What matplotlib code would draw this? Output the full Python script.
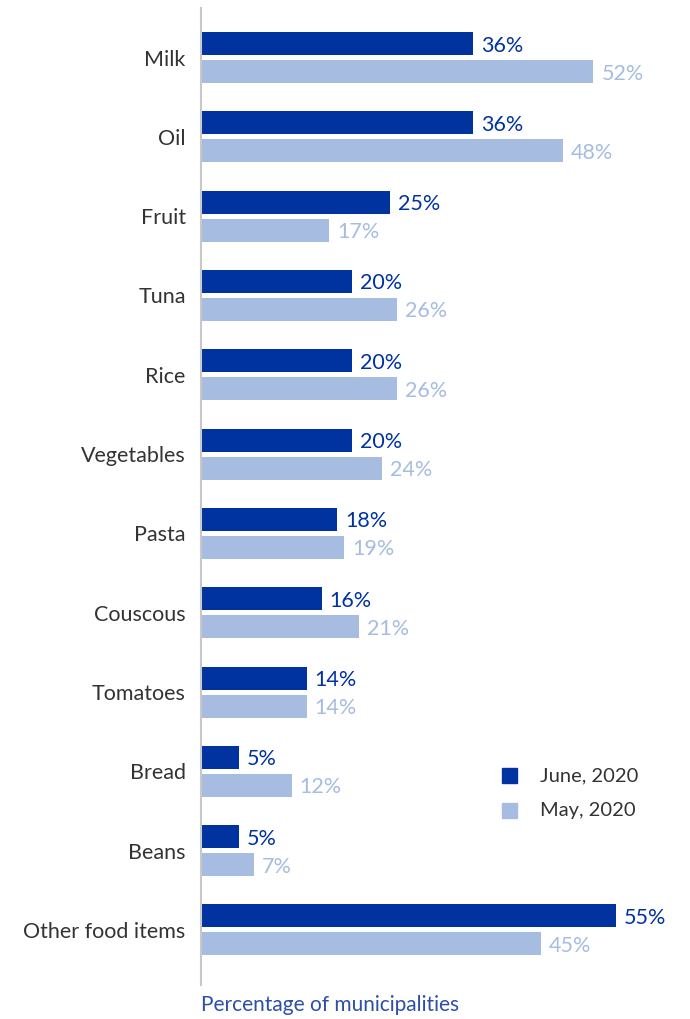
import matplotlib
matplotlib.use("Agg")
import matplotlib.pyplot as plt
from matplotlib.patches import Rectangle

categories = ["Milk", "Oil", "Fruit", "Tuna", "Rice", "Vegetables", "Pasta",
              "Couscous", "Tomatoes", "Bread", "Beans", "Other food items"]
june_2020 = [36, 36, 25, 20, 20, 20, 18, 16, 14, 5, 5, 55]
may_2020 = [52, 48, 17, 26, 26, 24, 19, 21, 14, 12, 7, 45]
series_labels = ["June, 2020", "May, 2020"]

DARK = "#0033A0"
LIGHT = "#A6BCE0"
FONT = ["Lato", "DejaVu Sans"]

W, H = 690, 1019
fig = plt.figure(figsize=(W / 100, H / 100), dpi=100)
ax_left, ax_right = 201, 680
ax_top, ax_bot = 8, 985
ax = fig.add_axes([ax_left / W, 1 - ax_bot / H, (ax_right - ax_left) / W, (ax_bot - ax_top) / H])

px_per_pct = (616 - 201) / 55.0
ax.set_xlim(0, (ax_right - ax_left) / px_per_pct)
spacing = 79.3
ax.set_ylim(11 + (985 - 930) / spacing, -(57.5 - 8) / spacing)

n = len(categories)
ys = list(range(n))
bh = 23 / spacing
off = 14 / spacing
ax.barh([y - off for y in ys], june_2020, height=bh, color=DARK)
ax.barh([y + off for y in ys], may_2020, height=bh, color=LIGHT)

dx = 8 / px_per_pct
ty = 2 / spacing
for y, v in zip(ys, june_2020):
    ax.text(v + dx, y - off + ty, f"{v}%", va="center", ha="left", color=DARK,
            fontsize=15.5, family=FONT)
for y, v in zip(ys, may_2020):
    ax.text(v + dx, y + off + ty, f"{v}%", va="center", ha="left", color=LIGHT,
            fontsize=15.5, family=FONT)

ax.set_yticks(ys)
ax.set_yticklabels(categories, family=FONT, fontsize=15.5, color="#333333")
ax.tick_params(axis="y", length=0, pad=11)
ax.set_xticks([])
for s in ["top", "right", "bottom"]:
    ax.spines[s].set_visible(False)
ax.spines["left"].set_color("#C8C8C8")
ax.spines["left"].set_linewidth(1.5)

# legend
for i, (lab, col) in enumerate(zip(series_labels, [DARK, LIGHT])):
    yc = 775.5 + i * 35
    fig.patches.append(Rectangle((502 / W, 1 - (yc + 7.5) / H), 15 / W, 15 / H,
                                 transform=fig.transFigure, color=col))
    fig.text(540 / W, 1 - yc / H, lab, va="center", ha="left", fontsize=14.5,
             family=FONT, color="#333333")

fig.text(201 / W, 1 - 1005 / H, "Percentage of municipalities", va="center", ha="left",
         fontsize=15, family=FONT, color="#2C4FA8")

fig.savefig("out.png", dpi=100)
